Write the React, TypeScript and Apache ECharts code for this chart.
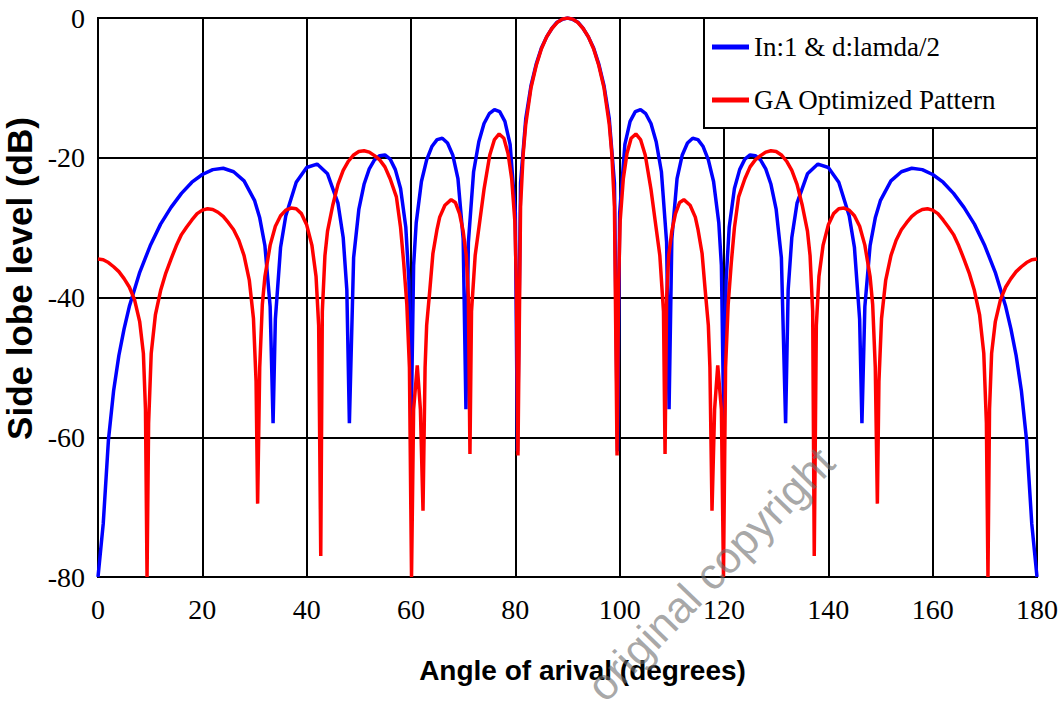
import { useEffect, useRef } from "react";
import * as echarts from "echarts";

const blueName = "In:1 & d:lamda/2";
const redName = "GA Optimized Pattern";

const blueAngles = [
  0, 1, 2, 3, 4, 5, 6, 8, 10, 12, 14, 16, 18, 20, 22, 24, 26, 28, 30, 31, 32, 33, 33.56, 34, 35, 36,
  38, 40, 42, 44, 46, 47, 47.7, 48.19, 49, 50, 51, 52, 53, 54, 55, 56, 57, 58, 59, 59.6, 60, 60.5,
  61, 62, 63, 64, 65, 66, 67, 68, 69, 70, 70.53, 71, 72, 73, 74, 75, 76, 77, 78, 79, 80, 80.41,
  81, 82, 83, 84, 85, 86, 87, 88, 89, 90,
  91, 92, 93, 94, 95, 96, 97, 98, 99, 99.59, 100, 101, 102, 103, 104, 105, 106, 107, 108, 109,
  109.47, 110, 111, 112, 113, 114, 115, 116, 117, 118, 119, 119.5, 120, 120.4, 121, 122, 123, 124,
  125, 126, 127, 128, 129, 130, 131, 131.81, 132.3, 133, 134, 136, 138, 140, 142, 144, 145, 146,
  146.44, 147, 148, 149, 150, 152, 154, 156, 158, 160, 162, 164, 166, 168, 170, 172, 174, 175, 176,
  177, 178, 179, 180,
];
const blueLevels = [
  -80, -72.4, -60.4, -53.3, -48.3, -44.5, -41.3, -36.4, -32.6, -29.5, -27.1, -25.1, -23.5, -22.4,
  -21.7, -21.5, -22.0, -23.3, -26.1, -28.6, -32.6, -41.3, -58, -43.1, -32.8, -28.3,
  -23.5, -21.4, -20.9, -22.3, -26.5, -31.4, -38.9, -58, -34.3, -27.4, -23.8, -21.6, -20.3, -19.7,
  -19.6, -20.2, -21.7, -24.4, -29.9, -37.6, -60, -35.4,
  -29.3, -23.4, -20.3, -18.4, -17.4, -17.2, -17.9, -19.6, -23.0, -31.6, -56, -32.1, -22.0, -17.7,
  -15.1, -13.7, -13.1, -13.4, -14.8, -18.1, -27.9, -62,
  -23.6, -14.4, -9.7, -6.6, -4.3, -2.7, -1.5, -0.6, -0.2, 0,
  -0.2, -0.6, -1.5, -2.7, -4.3, -6.6, -9.7, -14.4, -23.6, -62, -27.9, -18.1, -14.8, -13.4, -13.1,
  -13.7, -15.1, -17.7, -22.0, -32.1,
  -56, -31.6, -23.0, -19.6, -17.9, -17.2, -17.4, -18.4, -20.3, -23.4, -29.3, -35.4, -60, -37.6,
  -29.9, -24.4, -21.7, -20.2,
  -19.6, -19.7, -20.3, -21.6, -23.8, -27.4, -34.3, -58, -38.9, -31.4, -26.5, -22.3, -20.9, -21.4,
  -23.5, -28.3, -32.8, -43.1,
  -58, -41.3, -32.6, -28.6, -26.1, -23.3, -22.0, -21.5, -21.7, -22.4, -23.5, -25.1, -27.1, -29.5,
  -32.6, -36.4, -41.3, -44.5, -48.3,
  -53.3, -60.4, -72.4, -80,
];

const redAngles = [
  0, 1, 2, 3, 4, 5, 6, 7, 8, 8.7, 9.1, 9.4, 9.7, 10.2, 11, 12, 13, 14, 15, 16, 17, 18, 19, 20, 21,
  22, 23, 24, 25, 26, 27, 28, 29, 29.8, 30.3, 30.6, 31, 31.5, 32, 33, 34, 35, 36, 37, 38, 39, 40,
  41, 41.8, 42.3, 42.7, 43, 43.5, 44, 45, 46, 47, 48, 49, 50, 51, 52, 53, 54, 55, 56, 57.2, 58,
  58.6, 59.2, 59.7, 60.1, 60.5, 61.2, 61.8, 62.3, 62.7, 63, 63.6, 64.2, 65, 65.5, 66.5, 67.7, 68.5,
  69.3, 70, 70.6, 71, 71.3, 71.6, 72.3, 73.2, 74, 75.1, 76, 76.9, 77.8, 78.6, 79.3, 79.9, 80.2,
  80.5, 81, 81.5, 82, 83, 84, 85, 86, 87, 88, 89, 90,
  91, 92, 93, 94, 95, 96, 97, 98, 98.5, 99, 99.5, 99.8, 100.1, 100.7, 101.4, 102.2, 103.1, 104,
  104.9, 106, 106.8, 107.7, 108.4, 108.7, 109, 109.4, 110, 110.7, 111.5, 112.3, 113.5, 114.5, 115,
  115.8, 116.4, 117, 117.3, 117.7, 118.2, 118.8, 119.5, 119.9, 120.3, 120.8, 121.4, 122, 122.8,
  124, 125, 126, 127, 128, 129, 130, 131, 132, 133, 134, 135, 136, 136.5, 137, 137.3, 137.7, 138.2,
  139, 140, 141, 142, 143, 144, 145, 146, 147, 148, 148.5, 149, 149.4, 149.7, 150.2, 151, 152, 153,
  154, 155, 156, 157, 158, 159, 160, 161, 162, 163, 164, 165, 166, 167, 168, 169, 169.8, 170.3,
  170.6, 170.9, 171.3, 172, 173, 174, 175, 176, 177, 178, 179, 180,
];
const redLevels = [
  -34.5, -34.6, -35.0, -35.6, -36.3, -37.3, -38.5, -40.3, -43.5, -48, -56, -80, -58, -48, -42.5,
  -39, -36.5, -34.5, -32.6, -31, -29.9, -28.9, -28.0, -27.5, -27.3, -27.4, -27.8, -28.4, -29.3,
  -30.3, -31.8, -34, -37.5, -43, -52, -69.5, -50, -41, -37, -32.5, -29.8, -28.3, -27.5, -27.2,
  -27.3, -28.0, -29.6, -32.5, -37, -44, -77, -42, -34, -30.5, -26.8, -23.8, -21.8, -20.5, -19.6,
  -19.1, -19.0, -19.2, -19.7, -20.3, -21.3, -23, -25.6, -30, -35, -41, -50, -80, -56, -49.7, -56,
  -70.5, -50, -44, -39, -33.7, -30.2, -28.5, -26.8, -26.0, -26.4, -28, -30.5, -34, -40, -62.4, -42,
  -34, -29, -24.5, -19.6, -17.4, -16.6, -17.2, -19.4, -23, -29, -38, -62.6, -27, -19.5, -15.2,
  -10, -6.8, -4.4, -2.7, -1.5, -0.65, -0.16, 0,
  -0.16, -0.65, -1.5, -2.7, -4.4, -6.8, -10, -15.2, -19.5, -27, -62.6, -38, -29, -23, -19.4, -17.2,
  -16.6, -17.4, -19.6, -24.5, -29, -34, -42, -62.4, -40, -34, -30.5, -28, -26.4, -26.0, -26.8,
  -28.5, -30.2, -33.7, -39, -44, -50, -70.5, -56, -49.7, -56, -80, -50, -41, -35, -30, -25.6,
  -23, -21.3, -20.3, -19.7, -19.2, -19.0, -19.1, -19.6, -20.5, -21.8, -23.8, -26.8, -30.5, -34,
  -42, -77, -44, -37, -32.5, -29.6, -28.0, -27.3, -27.2, -27.5, -28.3, -29.8, -32.5, -37, -41, -50,
  -69.5, -52, -43, -37.5, -34, -31.8, -30.3, -29.3, -28.4, -27.8, -27.4, -27.3, -27.5, -28.0,
  -28.9, -29.9, -31, -32.6, -34.5, -36.5, -39, -42.5, -48, -58, -80, -56, -48, -43.5, -40.3, -38.5,
  -37.3, -36.3, -35.6, -35.0, -34.6, -34.5,
];

const xAxisTitle = "Angle of arival (degrees)";
const yAxisTitle = "Side lobe level (dB)";
const watermark = "original copyright";

export default function App() {
  const ref = useRef<HTMLDivElement>(null);

  useEffect(() => {
    if (!ref.current) return;
    const chart = echarts.init(ref.current, null, { renderer: "svg" });
    const blueData = blueAngles.map((a, i) => [a, blueLevels[i]]);
    const redData = redAngles.map((a, i) => [a, redLevels[i]]);
    const tickFont = '"Liberation Serif", "Times New Roman", serif';
    const sansFont = '"Liberation Sans", Arial, sans-serif';
    chart.setOption({
      animation: false,
      backgroundColor: "#ffffff",
      grid: {
        left: 98,
        top: 18,
        width: 939,
        height: 559,
        show: true,
        borderColor: "#000",
        borderWidth: 2,
        outerBoundsMode: "none",
        containLabel: false,
      },
      xAxis: {
        type: "value",
        min: 0,
        max: 180,
        interval: 20,
        axisLine: { show: true, onZero: false, lineStyle: { color: "#000", width: 2 } },
        axisTick: { show: false },
        splitLine: { show: true, lineStyle: { color: "#000", width: 2 } },
        axisLabel: { color: "#000", fontFamily: tickFont, fontSize: 28, margin: 18 },
        name: xAxisTitle,
        nameLocation: "middle",
        nameGap: 79,
        nameTextStyle: {
          color: "#000",
          fontFamily: sansFont,
          fontWeight: "bold",
          fontSize: 28,
          padding: [0, 0, 0, 30],
        },
      },
      yAxis: {
        type: "value",
        min: -80,
        max: 0,
        interval: 20,
        axisLine: { show: true, onZero: false, lineStyle: { color: "#000", width: 2 } },
        axisTick: { show: false },
        splitLine: { show: true, lineStyle: { color: "#000", width: 2 } },
        axisLabel: { color: "#000", fontFamily: tickFont, fontSize: 28, margin: 13 },
        name: yAxisTitle,
        nameLocation: "middle",
        nameGap: 47,
        nameTextStyle: {
          color: "#000",
          fontFamily: sansFont,
          fontWeight: "bold",
          fontSize: 35,
          padding: [0, 0, 0, 38],
        },
      },
      legend: {
        left: 712,
        top: 32,
        orient: "vertical",
        icon: "rect",
        itemWidth: 37,
        itemHeight: 5,
        itemGap: 23,
        padding: 0,
        selectedMode: false,
        z: 20,
        textStyle: { color: "#000", fontFamily: tickFont, fontSize: 27, lineHeight: 30 },
        data: [blueName, redName],
      },
      graphic: [
        {
          type: "rect",
          z: 10,
          shape: { x: 704, y: 18, width: 333, height: 110 },
          style: { fill: "#fff", stroke: "#000", lineWidth: 2 },
        },
        {
          type: "text",
          z: 30,
          x: 842,
          y: 470,
          rotation: 0.8,
          silent: true,
          style: {
            text: watermark,
            fill: "rgba(110,110,110,0.6)",
            fontSize: 44,
            fontFamily: sansFont,
            textAlign: "right",
            textVerticalAlign: "bottom",
          },
        },
      ],
      series: [
        {
          type: "line",
          name: blueName,
          data: blueData,
          symbol: "none",
          showSymbol: false,
          z: 3,
          lineStyle: { color: "#0000ff", width: 3.5 },
          itemStyle: { color: "#0000ff" },
        },
        {
          type: "line",
          name: redName,
          data: redData,
          symbol: "none",
          showSymbol: false,
          z: 4,
          lineStyle: { color: "#ff0000", width: 3.5 },
          itemStyle: { color: "#ff0000" },
        },
      ],
    });
    return () => chart.dispose();
  }, []);

  return (
    <div
      ref={ref}
      style={{ position: "absolute", left: 0, top: 0, width: 1062, height: 702, background: "#fff" }}
    />
  );
}
